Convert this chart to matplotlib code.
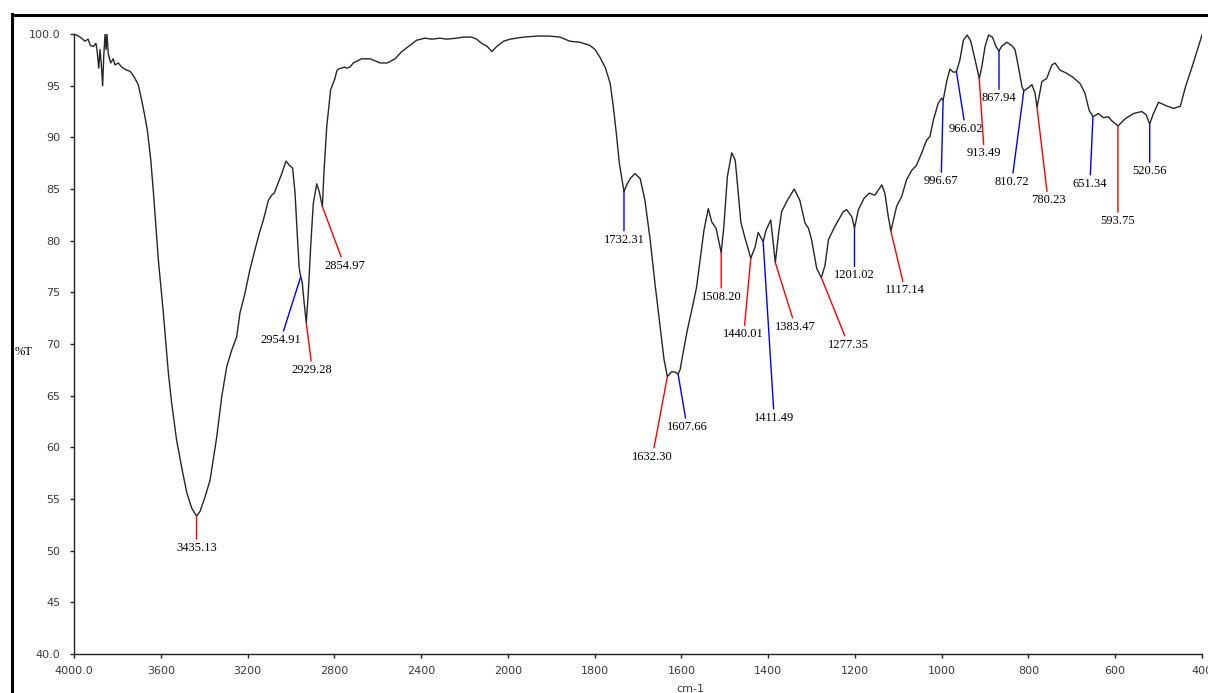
import matplotlib
matplotlib.use("Agg")
import matplotlib.pyplot as plt
from matplotlib.lines import Line2D
import numpy as np

# IR spectrum, wavenumber (cm-1) against transmittance (%T)
wavenumber = [
    4000, 3980, 3965, 3950, 3935, 3925, 3911, 3899, 3893, 3886, 3880, 3874, 3868, 3863,
    3857, 3852, 3848, 3842, 3831, 3819, 3811, 3796, 3780, 3757, 3742, 3734, 3719, 3704,
    3688, 3673, 3662, 3646, 3634, 3611, 3588, 3565, 3550, 3527, 3504, 3480, 3457, 3435.13,
    3419, 3396, 3373, 3342, 3319, 3296, 3273, 3250, 3235, 3212, 3189, 3166, 3146, 3127,
    3104, 3089, 3077, 3066, 3042, 3023, 3007, 2992, 2981, 2971, 2962, 2954.91, 2948, 2940,
    2929.28, 2920, 2909, 2897, 2881, 2869, 2854.97, 2848, 2835, 2817, 2797, 2789, 2782,
    2766, 2755, 2743, 2728, 2712, 2674, 2635, 2589, 2556, 2520, 2489, 2451, 2420, 2382,
    2350, 2313, 2282, 2236, 2205, 2167, 2144, 2121, 2095, 2074, 2051, 2020, 1995, 1964,
    1933, 1903, 1880, 1857, 1834, 1811, 1799, 1787, 1775, 1764, 1757, 1750, 1743, 1732.31,
    1726, 1718, 1707, 1695, 1684, 1678, 1672, 1661, 1649, 1640, 1632.30, 1623, 1615, 1607.66,
    1603, 1595, 1586, 1576, 1565, 1557, 1548, 1538, 1530, 1520, 1508.20, 1502, 1494, 1484,
    1476, 1471, 1463, 1453, 1440.01, 1430, 1423, 1411.49, 1405, 1394, 1383.47, 1376, 1369,
    1357, 1340, 1327, 1315, 1307, 1300, 1288, 1277.35, 1269, 1261, 1246, 1227, 1219, 1207,
    1201.02, 1192, 1179, 1167, 1154, 1138, 1131, 1123, 1117.14, 1104, 1092, 1081, 1069,
    1058, 1046, 1035, 1027, 1019, 1008, 1000, 996.67, 988, 981, 973, 966.02, 958, 950, 941,
    933, 923, 913.49, 908, 900, 892, 883, 875, 867.94, 862, 850, 839, 831, 823, 815, 810.72,
    800, 792, 785, 780.23, 769, 758, 746, 739, 727, 712, 697, 681, 670, 660, 651.34, 639,
    627, 616, 608, 593.75, 577, 558, 539, 529, 520.56, 512, 500, 485, 466, 450, 438, 423,
    408, 400,
]
transmittance = [
    100.0, 99.8, 99.6, 99.3, 99.5, 98.9, 98.8, 99.1, 98.3, 96.7, 98.5, 97.0, 95.0, 97.8,
    100.0, 98.5, 100.0, 98.1, 97.2, 97.6, 97.0, 97.2, 96.8, 96.5, 96.4, 96.2, 95.7, 95.1,
    93.6, 92.0, 90.7, 87.8, 84.7, 78.1, 73.0, 67.2, 64.3, 60.7, 58.1, 55.6, 54.1, 53.35,
    53.8, 55.2, 56.8, 61.0, 64.9, 67.8, 69.4, 70.7, 73.0, 74.9, 77.2, 79.1, 80.7, 82.0,
    83.9, 84.4, 84.6, 85.2, 86.5, 87.7, 87.3, 87.0, 84.6, 80.7, 77.4, 76.5, 76.0, 74.2,
    72.06, 74.9, 79.4, 83.6, 85.5, 84.7, 83.3, 86.5, 91.0, 94.6, 95.7, 96.4, 96.6,
    96.7, 96.8, 96.7, 96.8, 97.2, 97.6, 97.6, 97.2, 97.2, 97.6, 98.3, 98.9, 99.4, 99.6,
    99.5, 99.6, 99.5, 99.6, 99.7, 99.7, 99.5, 99.1, 98.8, 98.3, 98.8, 99.3, 99.5, 99.7,
    99.8, 99.8, 99.7, 99.3, 99.2, 98.9, 98.5, 97.7, 96.7, 95.2, 93.0, 90.4, 87.5, 84.74,
    85.4, 86.0, 86.5, 86.0, 83.9, 82.0, 80.1, 75.9, 71.7, 68.5, 66.84, 67.3, 67.3, 67.1,
    67.5, 69.4, 71.4, 73.3, 75.5, 78.1, 81.0, 83.1, 81.8, 81.2, 78.83, 81.4, 86.2, 88.5,
    87.8, 85.6, 81.8, 80.2, 78.3, 79.4, 80.8, 79.9, 81.0, 82.0, 77.87, 80.7, 82.8,
    83.8, 85.0, 83.9, 81.7, 81.2, 80.1, 77.3, 76.42, 77.6, 80.1, 81.4, 82.8, 83.0, 82.3,
    81.2, 83.0, 84.1, 84.6, 84.4, 85.4, 84.6, 82.3, 80.93, 83.3, 84.3, 85.9, 86.8,
    87.3, 88.5, 89.7, 90.1, 91.7, 93.3, 93.8, 93.6, 95.5, 96.6, 96.3, 96.35, 97.5, 99.4, 99.9,
    99.3, 97.5, 95.7, 96.7, 98.8, 99.9, 99.7, 98.8, 98.35, 98.8, 99.2, 98.9, 98.5, 96.8, 94.9, 94.5,
    94.8, 95.1, 94.3, 92.9, 95.4, 95.7, 97.0, 97.2, 96.5, 96.2, 95.8, 95.2, 94.3, 92.6, 92.0, 92.3,
    91.9, 92.0, 91.6, 91.1, 91.8, 92.3, 92.5, 92.2, 91.3, 92.3, 93.4, 93.1, 92.8, 93.0, 94.9, 96.8,
    98.8, 99.9,
]

# picked peaks and the colour of their leader lines
peak_wn = [3435.13, 2954.91, 2929.28, 2854.97, 1732.31, 1632.30, 1607.66, 1508.20,
           1440.01, 1411.49, 1383.47, 1277.35, 1201.02, 1117.14, 996.67, 966.02,
           913.49, 867.94, 810.72, 780.23, 651.34, 593.75, 520.56]
peak_color = ["red", "blue", "red", "red", "blue", "red", "blue", "red",
              "red", "blue", "red", "red", "blue", "red", "blue", "blue",
              "red", "blue", "blue", "red", "blue", "red", "blue"]
# leader line ends, pixels right / down from the peak
leader_dx = [0, -20, 6, 22, 0, -15, 9, 0, -7, 11, 20, 27, 0, 14, -2, 9, 5, 0, -12, 11, -3, 0, 0]
leader_dy = [24, 55, 39, 51, 40, 72, 45, 36, 68, 168, 56, 59, 39, 51, 73, 49, 67, 39, 83, 85, 59, 87, 39]

x_ticks = [4000, 3600, 3200, 2800, 2400, 2000, 1800, 1600, 1400, 1200, 1000, 800, 600, 400]
x_tick_labels = ["4000.0"] + [str(t) for t in x_ticks[1:]]
y_ticks = list(range(40, 101, 5))
y_tick_labels = ["40.0"] + [str(t) for t in y_ticks[1:-1]] + ["100.0"]


# the spectrometer expands the scale by two below 2000 cm-1
def forward(w):
    w = np.asarray(w, dtype=float)
    return np.where(w >= 2000, w, 2 * w - 2000)


def inverse(u):
    u = np.asarray(u, dtype=float)
    return np.where(u >= 2000, u, (u + 2000) / 2)


W, H = 1208, 693
fig = plt.figure(figsize=(W / 100, H / 100), dpi=100)
ax = fig.add_axes([74 / W, 1 - 654 / H, 1128 / W, 620 / H])

ax.set_xscale("function", functions=(forward, inverse))
ax.plot(wavenumber, transmittance, color="#262626", lw=1.0)
ax.set_xlim(4000, 400)
ax.set_ylim(40, 100)

for s in ["top", "right"]:
    ax.spines[s].set_visible(False)
for s in ["left", "bottom"]:
    ax.spines[s].set_linewidth(1.0)
    ax.spines[s].set_color("#222222")

ax.set_xticks(x_ticks)
ax.set_xticklabels(x_tick_labels)
ax.set_yticks(y_ticks)
ax.set_yticklabels(y_tick_labels)
ax.minorticks_off()
ax.tick_params(axis="both", direction="out", length=3, width=1, color="#222222",
               labelsize=8, labelcolor="#3a3a3a")
ax.tick_params(axis="x", pad=6)
ax.tick_params(axis="y", pad=7)

wn_asc = np.array(wavenumber)[::-1]
t_asc = np.array(transmittance)[::-1]
for wn, c, dx, dy in zip(peak_wn, peak_color, leader_dx, leader_dy):
    t = float(np.interp(wn, wn_asc, t_asc))
    ax.annotate(f"{wn:.2f}", xy=(wn, t), xytext=(dx, -(dy + 2)),
                textcoords="offset pixels", ha="center", va="top",
                fontsize=9, family="Liberation Serif", color="black",
                arrowprops=dict(arrowstyle="-", color=c, lw=1.0,
                                shrinkA=0, shrinkB=0))

fig.text(15 / W, 1 - 352 / H, "%T", family="Liberation Serif", fontsize=9,
         ha="left", va="center")
fig.text(690 / W, 1 - 684 / H, "cm-1", fontsize=8, color="#3a3a3a",
         ha="center", va="top")

# window frame along the top and left edges
fig.add_artist(Line2D([12 / W, 1], [1 - 15 / H, 1 - 15 / H], color="black", lw=2.2))
fig.add_artist(Line2D([12 / W, 12 / W], [1 - 14 / H, 0], color="black", lw=2.2))

fig.savefig("out.png", dpi=100)
